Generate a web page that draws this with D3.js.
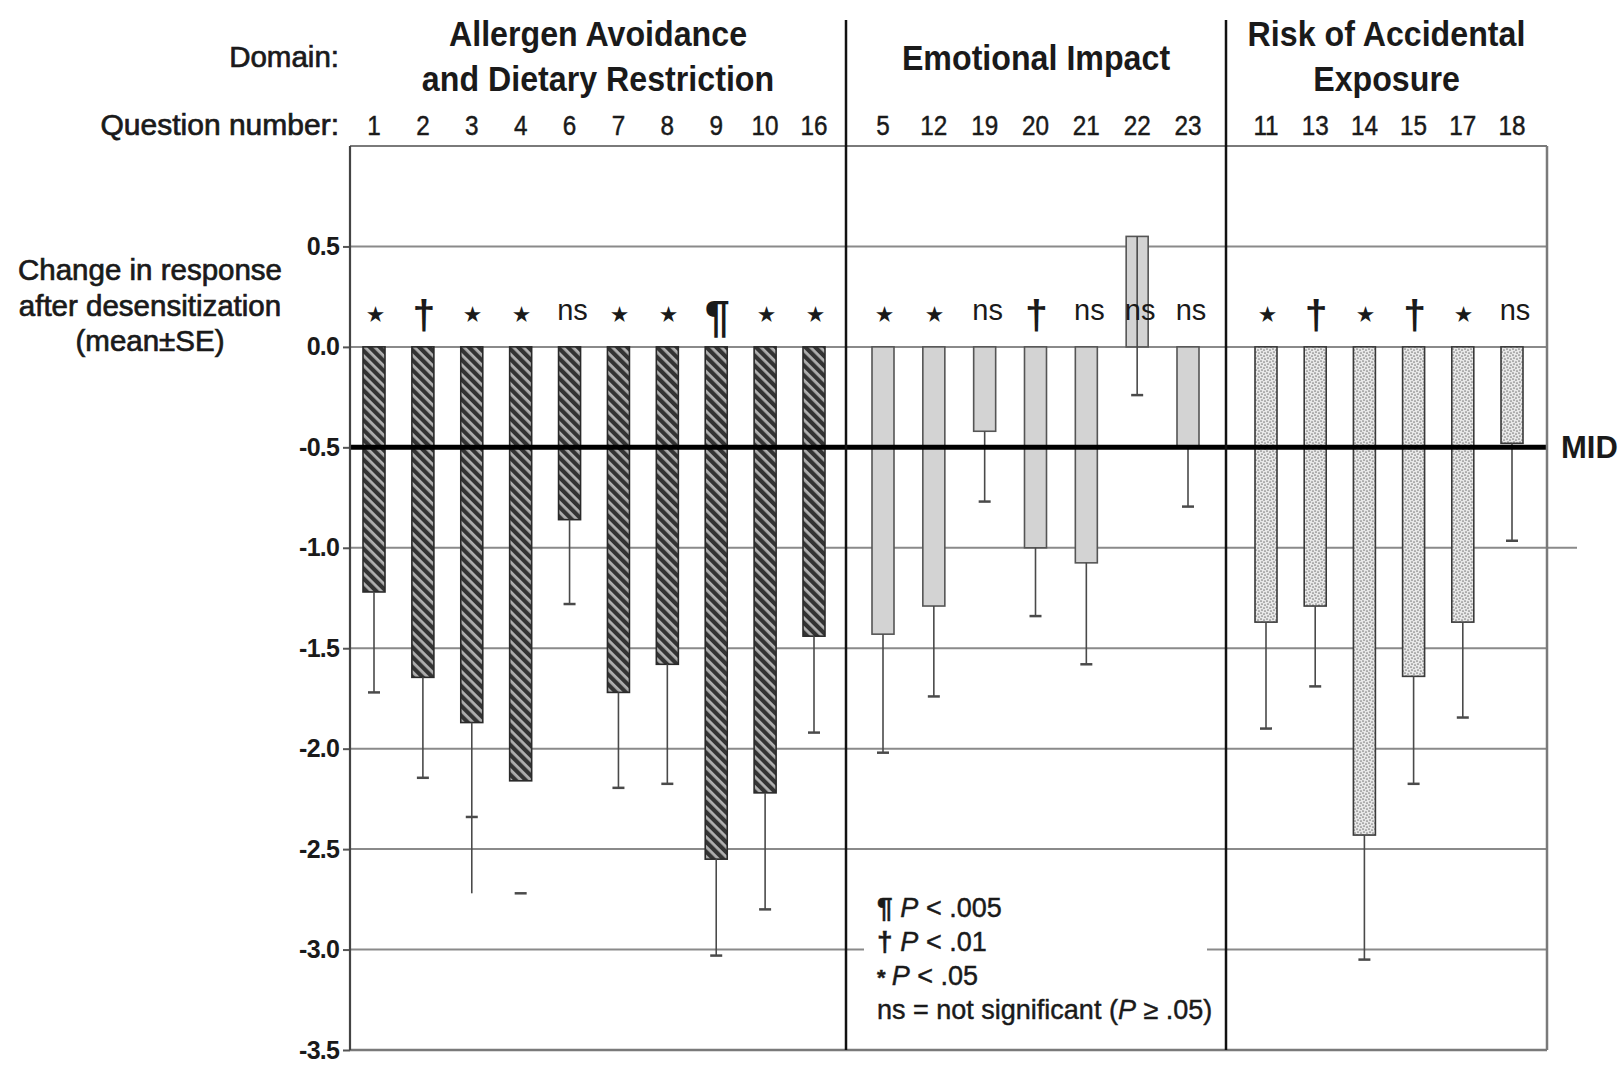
<!DOCTYPE html>
<html><head><meta charset="utf-8">
<script src="https://cdn.jsdelivr.net/npm/d3@7"></script>
<style>
body{margin:0;background:#fff;}
svg{display:block;}
text{font-family:"Liberation Sans",Arial,Helvetica,sans-serif;fill:#1a1a1a;}
.heavy{stroke:#1a1a1a;stroke-width:0.7px;}
.semi{stroke:#1a1a1a;stroke-width:0.45px;}
</style>
</head><body>
<svg id="chart" width="1622" height="1068"></svg>
<script>
// ---------------- DATA ----------------
const domainTitles = [["Allergen Avoidance", "and Dietary Restriction"], ["Emotional Impact"], ["Risk of Accidental", "Exposure"]];
const questionsByDomain = [
  [1, 2, 3, 4, 6, 7, 8, 9, 10, 16],
  [5, 12, 19, 20, 21, 22, 23],
  [11, 13, 14, 15, 17, 18]
];
const meanChange = [
  [-1.22, -1.645, -1.87, -2.16, -0.86, -1.72, -1.58, -2.55, -2.22, -1.44],
  [-1.43, -1.29, -0.42, -1.00, -1.075, 0.55, -0.50],
  [-1.37, -1.29, -2.43, -1.64, -1.37, -0.48]
];
// lower end of the error whisker (mean - SE); null = whisker line not drawn
const whiskerEnd = [
  [-1.72, -2.145, -2.72, null, -1.28, -2.195, -2.175, -3.03, -2.80, -1.92],
  [-2.02, -1.74, -0.77, -1.34, -1.58, -0.24, -0.795],
  [-1.90, -1.69, -3.05, -2.175, -1.845, -0.965]
];
// value where the whisker cap is drawn
const capAt = [
  [-1.72, -2.145, -2.34, -2.72, -1.28, -2.195, -2.175, -3.03, -2.80, -1.92],
  [-2.02, -1.74, -0.77, -1.34, -1.58, -0.24, -0.795],
  [-1.90, -1.69, -3.05, -2.175, -1.845, -0.965]
];
const significance = [
  ["*", "†", "*", "*", "ns", "*", "*", "¶", "*", "*"],
  ["*", "*", "ns", "†", "ns", "ns", "ns"],
  ["*", "†", "*", "†", "*", "ns"]
];
const yTicks = [0.5, 0.0, -0.5, -1.0, -1.5, -2.0, -2.5, -3.0, -3.5];
const gridValues = [0.5, 0.0, -1.0, -1.5, -2.0, -2.5, -3.0];
const midValue = -0.5;
const yDomain = [-3.5, 1.0];
const yAxisTitle = ["Change in response", "after desensitization", "(mean±SE)"];
const legendLines = [
  {sym: "¶", pre: "", post: " < .005"},
  {sym: "†", pre: "", post: " < .01"},
  {sym: "*", pre: "", post: " < .05"},
  {sym: "", pre: "ns = not significant (", post: " ≥ .05)"}
];

// ---------------- LAYOUT ----------------
const svg = d3.select("#chart");
const P = {left: 350, right: 1547, top: 146, bottom: 1050};
const colEdges = [350, 846, 1226, 1547];
const groupRanges = [[374, 814], [883, 1188], [1266, 1512]];
const barW = 22;

const y = d3.scaleLinear().domain(yDomain).range([P.bottom, P.top]);
const xScales = questionsByDomain.map((qs, i) => d3.scalePoint().domain(qs).range(groupRanges[i]));

// patterns
const defs = svg.append("defs");
const hatch = defs.append("pattern").attr("id", "hatch").attr("patternUnits", "userSpaceOnUse")
  .attr("width", 7).attr("height", 7).attr("patternTransform", "rotate(-45)");
hatch.append("rect").attr("width", 7).attr("height", 7).attr("fill", "#b0b0b0");
hatch.append("rect").attr("width", 4.2).attr("height", 7).attr("fill", "#333");

const stip = defs.append("pattern").attr("id", "stipple").attr("patternUnits", "userSpaceOnUse")
  .attr("width", 6).attr("height", 6);
stip.append("rect").attr("width", 6).attr("height", 6).attr("fill", "#e8e8e8");
[[1, 1], [4, 2], [2, 4], [5, 5]].forEach(([cx, cy]) =>
  stip.append("circle").attr("cx", cx).attr("cy", cy).attr("r", 0.85).attr("fill", "#7e7e7e"));

const fills = ["url(#hatch)", "#d3d3d3", "url(#stipple)"];
const strokes = ["#2a2a2a", "#555", "#3a3a3a"];

// gridlines
const gridG = svg.append("g");
gridG.selectAll("line").data(gridValues).join("line")
  .attr("x1", P.left).attr("x2", d => d === -1.0 ? 1577 : P.right)
  .attr("y1", d => y(d)).attr("y2", d => y(d))
  .attr("stroke", "#8a8a8a").attr("stroke-width", 2);

// y axis with ticks
const axisG = svg.append("g").attr("transform", `translate(${P.left},0)`)
  .call(d3.axisLeft(y).tickValues(yTicks).tickFormat(d => d.toFixed(1)).tickSize(7).tickPadding(4));
axisG.select(".domain").remove();
axisG.selectAll(".tick line").attr("stroke", "#555").attr("stroke-width", 2);
axisG.selectAll(".tick text").attr("font-size", 25).attr("font-weight", "bold")
  .attr("font-family", "Liberation Sans, Arial, sans-serif").attr("fill", "#1f1f1f")
  .attr("letter-spacing", -0.8);

// bars, whiskers, markers
questionsByDomain.forEach((qs, gi) => {
  const xs = xScales[gi];
  const rows = qs.map((q, i) => ({q, m: meanChange[gi][i], w: whiskerEnd[gi][i], c: capAt[gi][i], s: significance[gi][i]}));
  const g = svg.append("g");
  g.selectAll("rect").data(rows).join("rect")
    .attr("x", d => xs(d.q) - barW / 2)
    .attr("y", d => y(Math.max(0, d.m)))
    .attr("width", barW)
    .attr("height", d => Math.abs(y(d.m) - y(0)))
    .attr("fill", fills[gi]).attr("stroke", strokes[gi]).attr("stroke-width", 1.6);
  g.selectAll("line.wh").data(rows.filter(d => d.w !== null)).join("line").attr("class", "wh")
    .attr("x1", d => xs(d.q)).attr("x2", d => xs(d.q))
    .attr("y1", d => y(d.m)).attr("y2", d => y(d.w))
    .attr("stroke", "#4a4a4a").attr("stroke-width", 1.6);
  g.selectAll("line.cap").data(rows).join("line").attr("class", "cap")
    .attr("x1", d => xs(d.q) - 6).attr("x2", d => xs(d.q) + 6)
    .attr("y1", d => y(d.c)).attr("y2", d => y(d.c))
    .attr("stroke", "#4a4a4a").attr("stroke-width", 2.5);
  // significance markers
  g.selectAll("text.sig").data(rows).join("text").attr("class", "sig")
    .attr("text-anchor", "middle")
    .attr("x", d => xs(d.q) + (d.s === "ns" ? 3 : 1))
    .attr("y", d => d.s === "*" ? 321 : d.s === "ns" ? 320 : d.s === "†" ? 329 : 332)
    .attr("font-size", d => d.s === "*" ? 19 : d.s === "ns" ? 29 : d.s === "†" ? 41 : 45)
    .attr("font-weight", d => d.s === "ns" ? "normal" : "bold")
    .attr("font-family", d => d.s === "*" ? "DejaVu Sans" : "Liberation Sans, Arial, sans-serif")
    .text(d => d.s === "*" ? "★" : d.s);
  // question numbers
  g.selectAll("text.qn").data(rows).join("text").attr("class", "qn semi")
    .attr("text-anchor", "middle").attr("font-size", 27)
    .attr("transform", d => `translate(${xs(d.q)},135) scale(0.9,1)`)
    .text(d => d.q);
});

// MID line
svg.append("line").attr("x1", P.left).attr("x2", P.right)
  .attr("y1", y(midValue)).attr("y2", y(midValue))
  .attr("stroke", "#000").attr("stroke-width", 5);
svg.append("text").attr("x", 1561).attr("y", y(midValue) + 11)
  .attr("font-size", 31).attr("font-weight", "bold").attr("fill", "#111").text("MID");

// legend (white backdrop breaks the gridline)
svg.append("rect").attr("x", 864).attr("y", 880).attr("width", 343).attr("height", 160).attr("fill", "#fff");
const lg = svg.append("g").attr("font-size", 27).attr("class", "semi");
legendLines.forEach((l, i) => {
  const t = lg.append("text").attr("x", 877).attr("y", 917 + i * 34);
  if (l.sym) t.append("tspan").attr("font-weight", "bold")
    .attr("font-size", l.sym === "*" ? 22 : 28).text(l.sym + " ");
  if (l.pre) t.append("tspan").text(l.pre);
  t.append("tspan").attr("font-style", "italic").text("P");
  t.append("tspan").text(l.post);
});

// frame
svg.append("line").attr("x1", P.left).attr("x2", P.right).attr("y1", P.top).attr("y2", P.top).attr("stroke", "#7a7a7a").attr("stroke-width", 2);
svg.append("line").attr("x1", P.left).attr("x2", P.right).attr("y1", P.bottom).attr("y2", P.bottom).attr("stroke", "#7a7a7a").attr("stroke-width", 2.5);
svg.append("line").attr("x1", P.right).attr("x2", P.right).attr("y1", P.top).attr("y2", P.bottom).attr("stroke", "#7a7a7a").attr("stroke-width", 2.5);
svg.append("line").attr("x1", P.left).attr("x2", P.left).attr("y1", P.top).attr("y2", P.bottom).attr("stroke", "#444").attr("stroke-width", 2.2);
// domain dividers
svg.selectAll("line.div").data(colEdges.slice(1, 3)).join("line").attr("class", "div")
  .attr("x1", d => d).attr("x2", d => d).attr("y1", 20).attr("y2", P.bottom)
  .attr("stroke", "#111").attr("stroke-width", 2.5);

// domain titles
domainTitles.forEach((lines, i) => {
  const cx = (colEdges[i] + colEdges[i + 1]) / 2;
  const base = lines.length === 1 ? [70] : [46, 91];
  lines.forEach((ln, j) => {
    svg.append("text").attr("text-anchor", "middle")
      .attr("transform", `translate(${cx},${base[j]}) scale(0.92,1)`)
      .attr("font-size", 35).attr("font-weight", "bold").attr("fill", "#151515").text(ln);
  });
});
// row labels
svg.append("text").attr("class", "heavy").attr("x", 339).attr("y", 67).attr("text-anchor", "end").attr("font-size", 29.5).text("Domain:");
svg.append("text").attr("class", "heavy").attr("x", 339).attr("y", 135).attr("text-anchor", "end").attr("font-size", 30).text("Question number:");
// y axis title
yAxisTitle.forEach((t, i) => {
  svg.append("text").attr("class", "heavy").attr("x", 150).attr("y", [280, 316, 351][i]).attr("text-anchor", "middle")
    .attr("font-size", 29.5).text(t);
});
</script>
</body></html>
